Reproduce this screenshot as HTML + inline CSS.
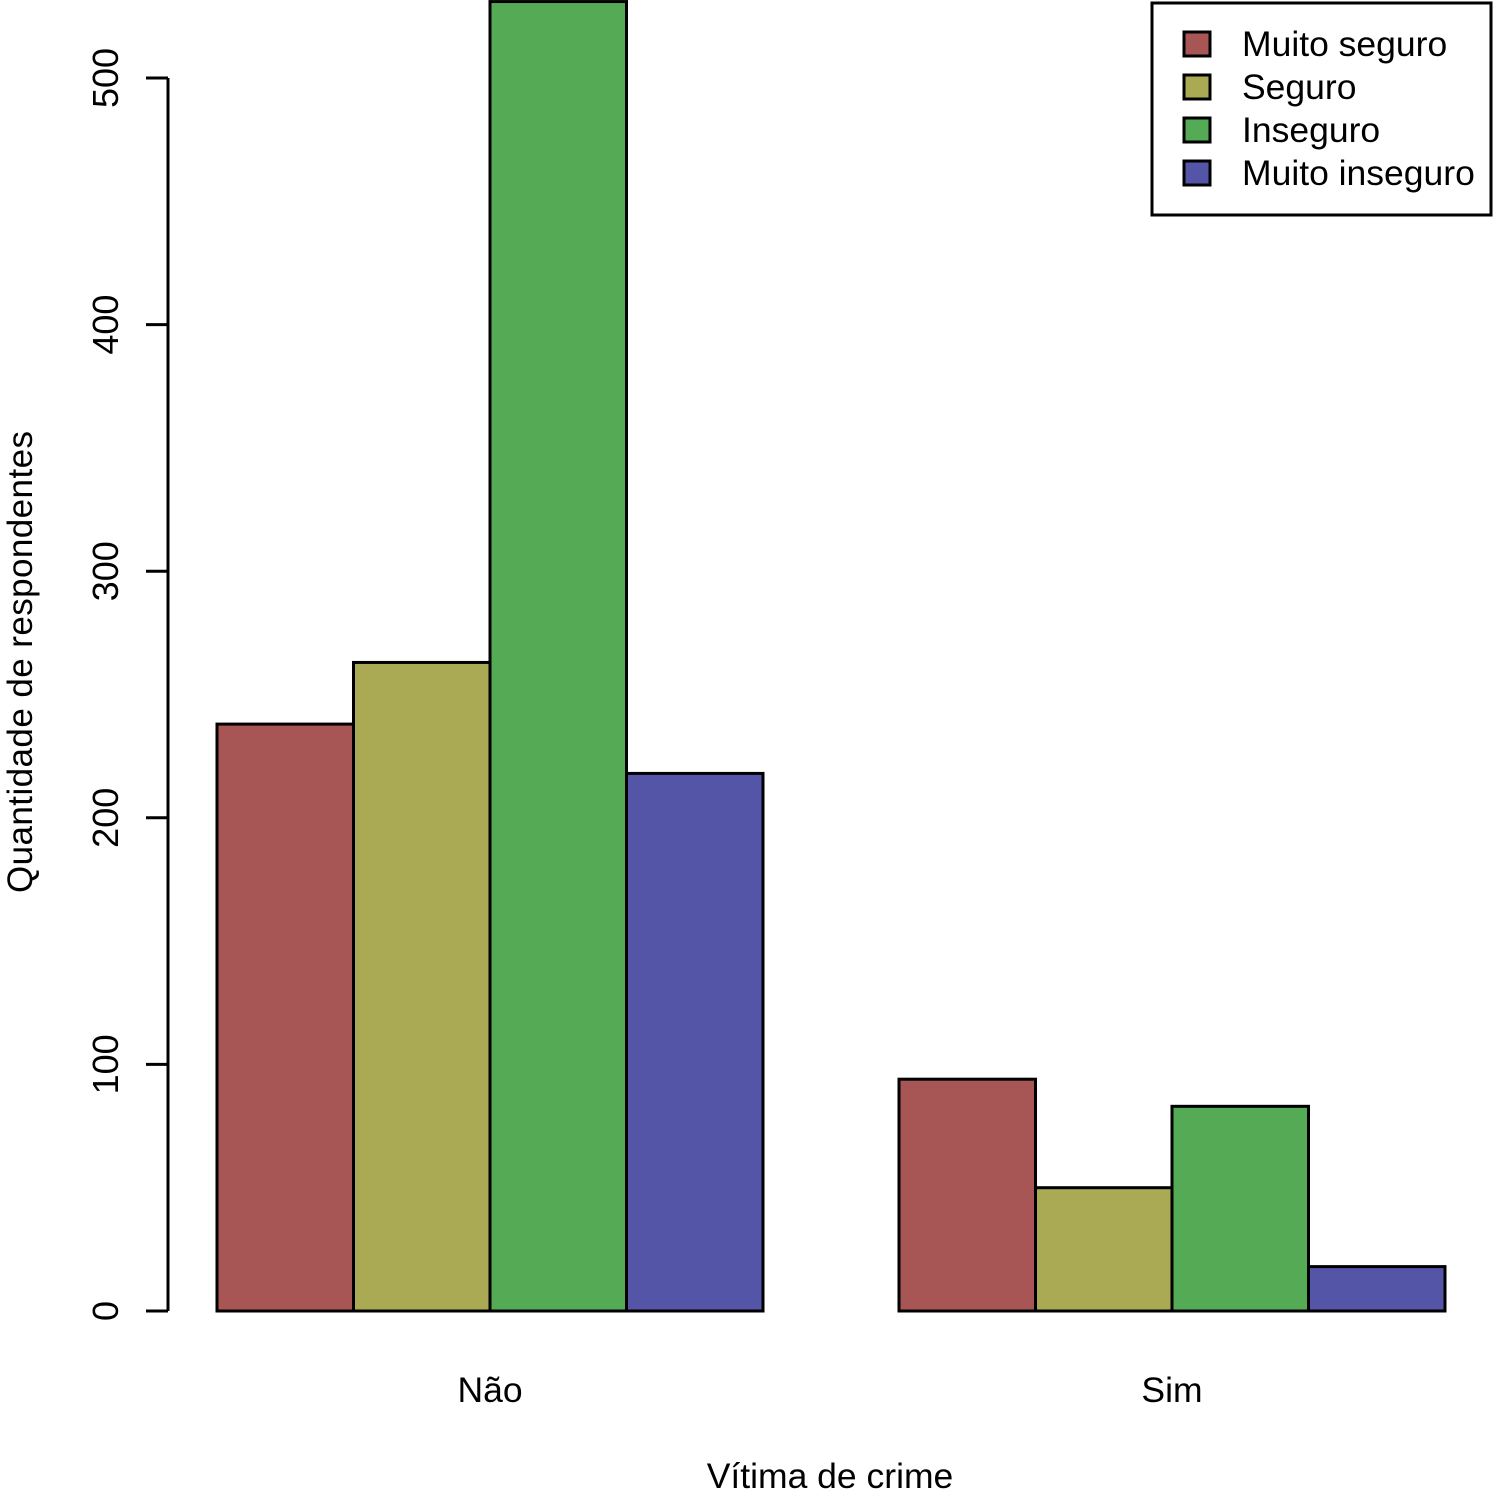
<!DOCTYPE html>
<html><head><meta charset="utf-8"><style>
html,body{margin:0;padding:0;background:#fff;}
svg{display:block;font-family:"Liberation Sans",Arial,sans-serif;}
</style></head><body>
<svg id="chart" width="1494" height="1493" viewBox="0 0 1494 1493" xmlns="http://www.w3.org/2000/svg">
<rect width="1494" height="1493" fill="#fff"/>
<g id="bars"></g>
<g id="yaxis"></g>
<g id="xlabels"></g>
<text transform="translate(32,662) rotate(-90)" text-anchor="middle" font-size="35" textLength="462" fill="#000">Quantidade de respondentes</text>
<text x="830" y="1488" text-anchor="middle" font-size="35.5" fill="#000">Vítima de crime</text>
<g id="legend">
<rect x="1152" y="3" width="339" height="212" fill="#fff" stroke="#000" stroke-width="3"/>
</g>
</svg>
<script>
const categories = ["Não", "Sim"];
const seriesNames = ["Muito seguro", "Seguro", "Inseguro", "Muito inseguro"];
const seriesColors = ["#a85555", "#aaaa55", "#55aa55", "#5555a8"];
const valuesNao = [238, 263, 531, 218];
const valuesSim = [94, 50, 83, 18];
const yTicks = [0, 100, 200, 300, 400, 500];

const NS = "http://www.w3.org/2000/svg";
const y0 = 1311, pxPerUnit = (1311 - 78) / 500;
function yScale(v){ return y0 - v * pxPerUnit; }
const groupStart = [217, 899], barW = 136.5;
function xScale(g, s){ return groupStart[g] + s * barW; }
function mk(tag, attrs, parent){
  const el = document.createElementNS(NS, tag);
  for (const k in attrs) el.setAttribute(k, attrs[k]);
  parent.appendChild(el);
  return el;
}
const bars = document.getElementById("bars");
const groups = [valuesNao, valuesSim];
groups.forEach((vals, g) => {
  vals.forEach((v, s) => {
    const r = mk("rect", {x: xScale(g, s), y: yScale(v), width: barW, height: y0 - yScale(v),
      fill: seriesColors[s], stroke: "#000", "stroke-width": 3}, bars);
    
    
  });
});
const yaxis = document.getElementById("yaxis");
const axisLine = mk("line", {x1: 168, x2: 168, y1: yScale(0), y2: yScale(500), stroke: "#000", "stroke-width": 3}, yaxis);


yTicks.forEach(t => {
  const tk = mk("line", {x1: 146, x2: 168, y1: yScale(t), y2: yScale(t), stroke: "#000", "stroke-width": 3}, yaxis);
  
  
  const lb = mk("text", {transform: `translate(118,${yScale(t)}) rotate(-90)`, "text-anchor": "middle", "font-size": 36, fill: "#000"}, yaxis);
  lb.textContent = String(t);
  
  
});
const xl = document.getElementById("xlabels");
categories.forEach((c, g) => {
  const t = mk("text", {x: groupStart[g] + barW * 2, y: 1402, "text-anchor": "middle", "font-size": 35.5, fill: "#000"}, xl);
  t.textContent = c;
  
  
});
const legend = document.getElementById("legend");
seriesNames.forEach((n, i) => {
  const cy = 44 + i * 43;
  const sw = mk("rect", {x: 1184, y: cy - 12, width: 26, height: 24, fill: seriesColors[i], stroke: "#000", "stroke-width": 3}, legend);
  
  
  const t = mk("text", {x: 1242, y: cy + 12, "font-size": 35.5, fill: "#000"}, legend);
  t.textContent = n;
  
  
});
</script>
</body></html>
